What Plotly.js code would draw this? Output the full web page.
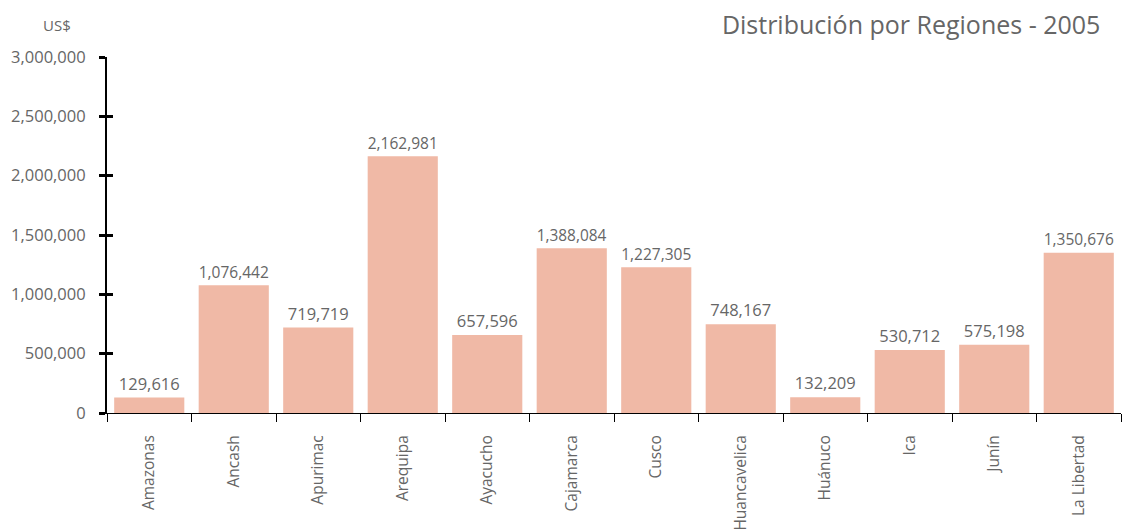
<!DOCTYPE html>
<html>
<head>
<meta charset="utf-8">
<script src="https://cdn.plot.ly/plotly-3.0.1.min.js"></script>
<style>html,body{margin:0;padding:0;background:#fff;}#chart{width:1124px;height:529px;}</style>
</head>
<body>
<div id="chart"></div>
<script>
const regions = ["Amazonas","Ancash","Apurimac","Arequipa","Ayacucho","Cajamarca","Cusco","Huancavelica","Huánuco","Ica","Junín","La Libertad"];
const values = [129616,1076442,719719,2162981,657596,1388084,1227305,748167,132209,530712,575198,1350676];
const yTicks = [0,500000,1000000,1500000,2000000,2500000,3000000];
const titleText = "Distribución por Regiones - 2005";
const unitText = "US$";

const FONT = "Open Sans, Noto Sans, sans-serif";
const GRAY = "#666666";

const data = [
  {
    type: "bar",
    x: regions,
    y: values,
    marker: {color: "#F0B9A6"},
    text: values.map(v => v.toLocaleString("en-US")),
    textposition: "outside",
    cliponaxis: false,
    textfont: {family: FONT, size: 16.5, color: GRAY},
    hoverinfo: "skip"
  },
  {
    type: "scatter",
    mode: "markers",
    x: regions,
    y: values,
    yaxis: "y2",
    marker: {opacity: 0, size: 1},
    hoverinfo: "skip",
    showlegend: false
  }
];

const layout = {
  width: 1124,
  height: 529,
  margin: {l: 107, r: 3, t: 57, b: 116},
  paper_bgcolor: "#ffffff",
  plot_bgcolor: "#ffffff",
  showlegend: false,
  bargap: 0.17,
  font: {family: FONT, color: GRAY},
  title: {
    text: titleText,
    xref: "container", yref: "container",
    x: 0.979, xanchor: "right",
    y: 0.953, yanchor: "middle",
    font: {family: FONT, size: 25, color: GRAY}
  },
  xaxis: {
    type: "category",
    range: [-0.5, regions.length - 0.5],
    showline: true, linecolor: "#000", linewidth: 1,
    ticks: "outside", ticklen: 8, tickcolor: "#000", tickwidth: 1,
    tickson: "boundaries",
    tickangle: -90,
    ticklabelstandoff: 15,
    tickfont: {family: FONT, size: 15.5, color: GRAY},
    showgrid: false, zeroline: false,
    fixedrange: true
  },
  yaxis: {
    range: [0, 3000000],
    tickvals: yTicks,
    ticktext: yTicks.map(v => v.toLocaleString("en-US")),
    showline: true, linecolor: "#000", linewidth: 2,
    ticks: "outside", ticklen: 6, tickcolor: "#000", tickwidth: 3,
    tickfont: {family: FONT, size: 16.5, color: GRAY},
    ticklabelstandoff: 10,
    showgrid: false, zeroline: false,
    fixedrange: true
  },
  yaxis2: {
    overlaying: "y",
    side: "left",
    anchor: "x",
    range: [0, 3000000],
    tickvals: yTicks,
    showticklabels: false,
    showline: false,
    ticks: "inside", ticklen: 6, tickcolor: "#000", tickwidth: 3,
    showgrid: false, zeroline: false,
    fixedrange: true
  },
  annotations: [
    {
      text: unitText,
      xref: "paper", yref: "paper",
      x: -0.049, y: 1.09,
      xanchor: "center", yanchor: "middle",
      showarrow: false,
      font: {family: FONT, size: 15, color: GRAY}
    }
  ]
};

Plotly.newPlot("chart", data, layout, {displayModeBar: false, staticPlot: true});
</script>
</body>
</html>
